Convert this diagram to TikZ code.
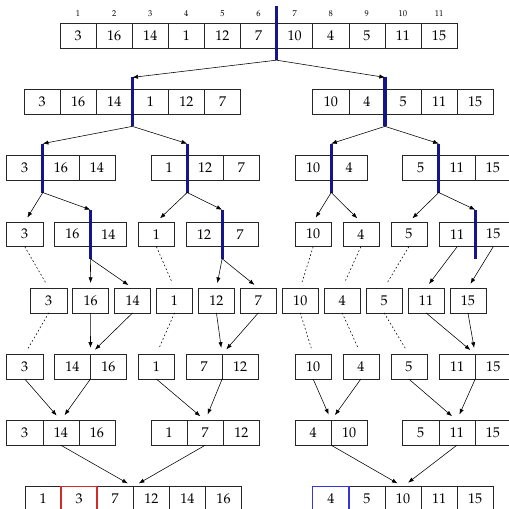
\documentclass[tikz,border=0pt]{standalone}
\usepackage[T1]{fontenc}
\usepackage{mathpazo}
\usetikzlibrary{arrows.meta, calc}
\definecolor{cbar}{HTML}{14148C}
\definecolor{cleft}{HTML}{D42A2A}
\definecolor{cright}{HTML}{3535E0}

% one array: name, left edge, y, values
\newcommand{\cells}[4]{%
  \foreach \v [count=\i] in {#4}
    \node[cell] (#1-\i) at ({#2+0.9*\i-0.45}, #3) {\v};
}
% cut of an array: name, cell left of the cut, length above
\newcommand{\splitbar}[3]{%
  \coordinate (#1-top) at ($(#1-#2.north east)+(0,#3)$);
  \coordinate (#1-bot) at ($(#1-#2.south east)+(0,-0.3)$);
  \draw[bar] (#1-top) -- (#1-bot);
}

\begin{document}
\begin{tikzpicture}[
    cell/.style={draw=black!85, minimum width=0.9cm, minimum height=0.62cm, inner sep=0pt, outer sep=0pt},
    idx/.style={font=\fontsize{6}{7}\selectfont, inner sep=0pt},
    bar/.style={cbar, line width=2.2pt},
    mark cell/.style={line width=1pt},
    split/.style={-{Latex[length=4pt, width=3pt]}},
    gap/.style={shorten >=3.5pt},
    merge/.style={-{Latex[length=4pt, width=3pt]}, shorten >=4.5pt},
    keep/.style={dash pattern=on 1.2pt off 1.6pt, shorten >=4.5pt}
]
\useasboundingbox (0,0) rectangle (12.69,-12.69);

% Level 1
\cells{s1}{1.496}{-0.89}{3,16,14,1,12,7,10,4,5,11,15}
\foreach \i in {1,...,11}
  \node[idx] (idx-\i) at ($(s1-\i.north)+(0,0.23)$) {\i};

% Level 2
\cells{s2a}{0.599}{-2.54}{3,16,14,1,12,7}
\cells{s2b}{7.798}{-2.54}{10,4,5,11,15}

% Level 3
\cells{s3a}{0.167}{-4.19}{3,16,14}
\cells{s3b}{3.766}{-4.19}{1,12,7}
\cells{s3c}{7.357}{-4.19}{10,4}
\cells{s3d}{10.04}{-4.19}{5,11,15}

% Level 4
\cells{s4a}{0.167}{-5.84}{3}
\cells{s4b}{1.354}{-5.84}{16,14}
\cells{s4c}{3.449}{-5.84}{1}
\cells{s4d}{4.638}{-5.84}{12,7}
\cells{s4e}{7.357}{-5.84}{10}
\cells{s4f}{8.546}{-5.84}{4}
\cells{s4g}{9.743}{-5.84}{5}
\cells{s4h}{10.948}{-5.84}{11,15}

% Level 5 (single elements)
\foreach \v [count=\i] in {3,16,14,1,12,7,10,4,5,11,15}
  \node[cell] (u-\i) at ({1.216+1.045*(\i-1)}, -7.49) {\v};

% Level 6
\cells{m6a}{0.167}{-9.14}{3}
\cells{m6b}{1.354}{-9.14}{14,16}
\cells{m6c}{3.449}{-9.14}{1}
\cells{m6d}{4.638}{-9.14}{7,12}
\cells{m6e}{7.357}{-9.14}{10}
\cells{m6f}{8.546}{-9.14}{4}
\cells{m6g}{9.743}{-9.14}{5}
\cells{m6h}{10.948}{-9.14}{11,15}

% Level 7
\cells{m7a}{0.167}{-10.79}{3,14,16}
\cells{m7b}{3.766}{-10.79}{1,7,12}
\cells{m7c}{7.357}{-10.79}{4,10}
\cells{m7d}{10.04}{-10.79}{5,11,15}

% Level 8
\cells{m8a}{0.623}{-12.44}{1,3,7,12,14,16}
\cells{m8b}{7.798}{-12.44}{4,5,10,11,15}
\draw[cleft, mark cell] (m8a-2.south west) rectangle (m8a-2.north east);
\draw[cright, mark cell] (m8b-1.south west) rectangle (m8b-1.north east);

% Cuts
\splitbar{s1}{6}{0.42}
\splitbar{s2a}{3}{0.3}
\splitbar{s2b}{2}{0.3}
\splitbar{s3a}{1}{0.3}
\splitbar{s3b}{1}{0.3}
\splitbar{s3c}{1}{0.3}
\splitbar{s3d}{1}{0.3}
\splitbar{s4b}{1}{0.3}
\splitbar{s4d}{1}{0.3}
\splitbar{s4h}{1}{0.3}

% Splitting
\draw[split] (s1-bot) -- (s2a-top);
\draw[split] (s1-bot) -- (s2b-top);

\draw[split] (s2a-bot) -- (s3a-top);
\draw[split] (s2a-bot) -- (s3b-top);
\draw[split] (s2b-bot) -- (s3c-top);
\draw[split] (s2b-bot) -- (s3d-top);

\draw[split, gap] (s3a-bot) -- (s4a-1.north);
\draw[split] (s3a-bot) -- (s4b-top);
\draw[split, gap] (s3b-bot) -- (s4c-1.north);
\draw[split] (s3b-bot) -- (s4d-top);
\draw[split, gap] (s3c-bot) -- (s4e-1.north);
\draw[split, gap] (s3c-bot) -- (s4f-1.north);
\draw[split, gap] (s3d-bot) -- (s4g-1.north);
\draw[split] (s3d-bot) -- (s4h-top);

\draw[split, gap] (s4b-bot) -- (u-2.north);
\draw[split, gap] (s4b-bot) -- (u-3.north);
\draw[split, gap] (s4d-bot) -- (u-5.north);
\draw[split, gap] (s4d-bot) -- (u-6.north);
\draw[split, gap] (s4h-1.south) -- (u-10.north);
\draw[split, gap] (s4h-2.south) -- (u-11.north);

\draw[keep] (s4a-1.south) -- (u-1.north);
\draw[keep] (s4c-1.south) -- (u-4.north);
\draw[keep] (s4e-1.south) -- (u-7.north);
\draw[keep] (s4f-1.south) -- (u-8.north);
\draw[keep] (s4g-1.south) -- (u-9.north);

% Merging
\draw[keep] (u-1.south) -- (m6a-1.north);
\draw[merge] (u-2.south) -- (m6b-1.north east);
\draw[merge] (u-3.south) -- (m6b-1.north east);
\draw[keep] (u-4.south) -- (m6c-1.north);
\draw[merge] (u-5.south) -- (m6d-1.north east);
\draw[merge] (u-6.south) -- (m6d-1.north east);
\draw[keep] (u-7.south) -- (m6e-1.north);
\draw[keep] (u-8.south) -- (m6f-1.north);
\draw[keep] (u-9.south) -- (m6g-1.north);
\draw[merge] (u-10.south) -- (m6h-1.north east);
\draw[merge] (u-11.south) -- (m6h-1.north east);

\draw[merge] (m6a-1.south) -- (m7a-2.north);
\draw[merge] (m6b-1.south east) -- (m7a-2.north);
\draw[merge] (m6c-1.south) -- (m7b-2.north);
\draw[merge] (m6d-1.south east) -- (m7b-2.north);
\draw[merge] (m6e-1.south) -- (m7c-1.north east);
\draw[merge] (m6f-1.south) -- (m7c-1.north east);
\draw[merge] (m6g-1.south) -- (m7d-2.north);
\draw[merge] (m6h-1.south east) -- (m7d-2.north);

\draw[merge] (m7a-2.south) -- (m8a-3.north east);
\draw[merge] (m7b-2.south) -- (m8a-3.north east);
\draw[merge] (m7c-1.south east) -- (m8b-3.north);
\draw[merge] (m7d-2.south) -- (m8b-3.north);

\end{tikzpicture}
\end{document}
